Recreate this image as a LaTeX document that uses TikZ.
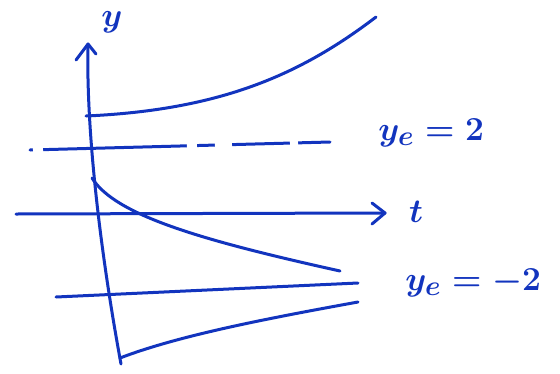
\documentclass[tikz,border=0pt]{standalone}
\usetikzlibrary{arrows.meta}
\definecolor{pen}{RGB}{18,52,190}
\begin{document}
\begin{tikzpicture}[x=1pt,y=-1pt,
  ink/.style={draw=pen,line width=3pt,line cap=round,line join=round},
  lbl/.style={text=pen,font=\Huge\boldmath,inner sep=0pt,scale=1.35}]
\useasboundingbox (0,0) rectangle (560,373);
% axes
\coordinate (ybot) at (121,364);
\coordinate (ytop) at (88,44);
\coordinate (tl) at (16,214);
\coordinate (tr) at (385,213);
\draw[ink] (ybot) .. controls (100,250) and (86,130) .. (ytop);
\draw[ink] (76,60) -- (ytop) -- (96,54);
\draw[ink] (tl) -- (tr);
\draw[ink] (372,203) -- (tr) -- (372,224);
\node[lbl] (ylab) at (112,22) {$y$};
\node[lbl] (tlab) at (416,212) {$t$};
% equilibrium lines
\coordinate (d1) at (30,150);
\coordinate (d2) at (330,142);
\draw[ink,dash pattern=on 110pt off 0pt] (d1) -- (d2);
\draw[draw=white,line width=6pt] (187,147) -- (197,146.7);
\draw[draw=white,line width=6pt] (215,146) -- (232,145.5);
\draw[draw=white,line width=6pt] (290,143) -- (298,142.8);
\draw[draw=white,line width=6pt] (33,150) -- (43,149.8);
\node[lbl,anchor=west] (e1) at (378,133) {$y_e=2$};
\coordinate (s1) at (56,297);
\coordinate (s2) at (358,283);
\draw[ink] (s1) -- (s2);
\node[lbl,anchor=west] (e2) at (405,283) {$y_e=-2$};
% solution curves
\coordinate (c1a) at (86,116);
\coordinate (c1b) at (376,17);
\draw[ink] (c1a) .. controls (220,110) and (300,75) .. (c1b);
\coordinate (c2a) at (92,178);
\coordinate (c2b) at (340,271);
\draw[ink] (c2a) .. controls (115,215) and (200,240) .. (c2b);
\coordinate (c3a) at (120,358);
\coordinate (c3b) at (358,302);
\draw[ink] (c3a) .. controls (180,335) and (270,318) .. (c3b);
\end{tikzpicture}
\end{document}
